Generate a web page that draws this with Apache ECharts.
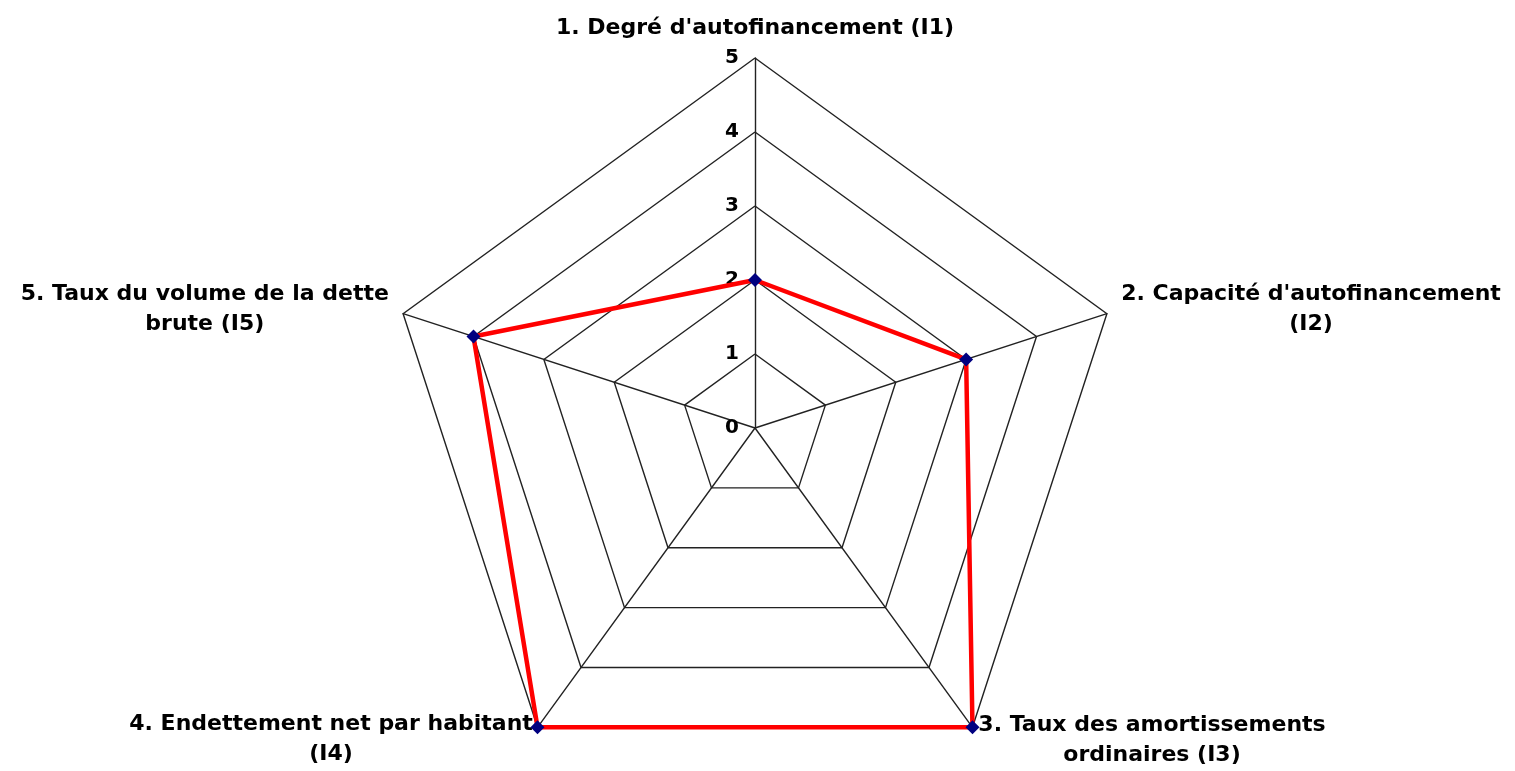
<!DOCTYPE html>
<html>
<head>
<meta charset="utf-8">
<script src="https://cdn.jsdelivr.net/npm/echarts@6/dist/echarts.min.js"></script>
<style>
  html, body { margin: 0; padding: 0; background: #fff; }
  #chart { width: 1515px; height: 771px; }
</style>
</head>
<body>
<div id="chart"></div>
<script>
// indicateurs (libellés sur deux lignes) et valeurs, dans l'ordre I1..I5
const indicatorNames = [
  "1. Degré d'autofinancement (I1)",
  "2. Capacité d'autofinancement\n(I2)",
  "3. Taux des amortissements\nordinaires (I3)",
  "4. Endettement net par habitant\n(I4)",
  "5. Taux du volume de la dette\nbrute (I5)"
]
const indicatorMax = 5
const values = [2, 3, 5, 5, 4]

// ECharts tourne dans le sens anti-horaire : on inverse pour avoir I1..I5 dans le sens horaire
const order = [0, 4, 3, 2, 1]

// décalage vertical du libellé par indicateur
const namePadTop = [0, 0, 10, 10, 0]
const nameGaps = [15, 15, 10, 8, 15]

const chart = echarts.init(document.getElementById("chart"), null, { renderer: "canvas" })

const labelFont = {
  fontFamily: "DejaVu Sans",
  fontWeight: "bold",
  fontSize: 22,
  color: "#000",
  align: "center",
  lineHeight: 30
}

const option = {
  animation: false,
  backgroundColor: "#fff",
  radar: {
    center: [755, 428],
    radius: 370,
    startAngle: 90,
    splitNumber: 5,
    shape: "polygon",
    axisNameGap: 15,
    indicator: order.map((i, k) => ({
      name: indicatorNames[i],
      min: 0,
      max: indicatorMax,
      nameGap: nameGaps[i],
      nameTextStyle: { padding: [namePadTop[i], 0, 0, 0] },
      axisLabel: { show: k === 0 }
    })),
    axisName: {
      formatter: (name) => name.split("\n").map((l) => "{n|" + l + "}").join("\n"),
      rich: { n: labelFont }
    },
    axisLine: { lineStyle: { color: "#222", width: 1.4 } },
    splitLine: { lineStyle: { color: "#222", width: 1.4 } },
    splitArea: { show: false },
    axisTick: { show: false },
    axisLabel: {
      show: true,
      margin: 16,
      fontFamily: "DejaVu Sans",
      fontWeight: "bold",
      fontSize: 20,
      color: "#000"
    }
  },
  series: [
    {
      type: "radar",
      symbol: "diamond",
      symbolSize: 14,
      lineStyle: { color: "#ff0000", width: 4.5 },
      itemStyle: { color: "#000080" },
      data: [{ value: order.map((i) => values[i]) }]
    }
  ]
}

chart.setOption(option)
</script>
</body>
</html>
